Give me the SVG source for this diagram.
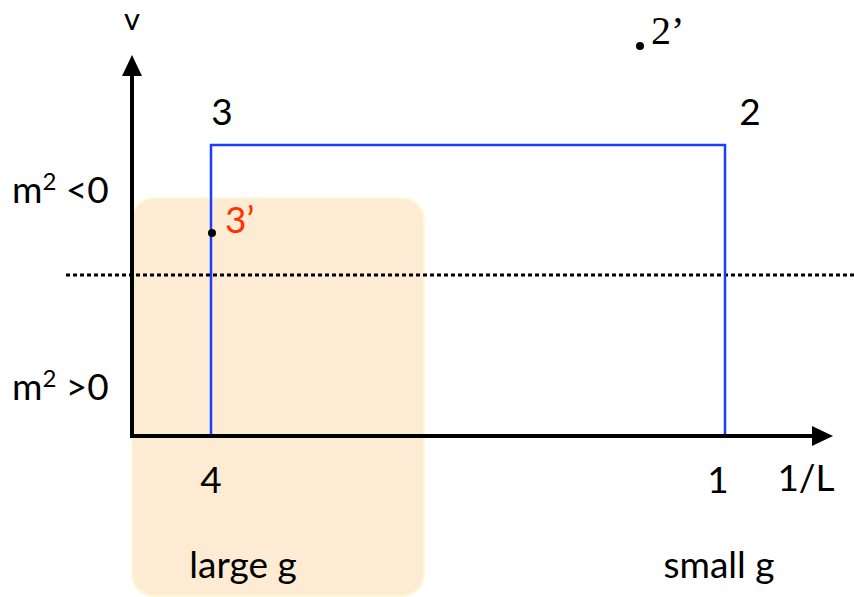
<svg xmlns="http://www.w3.org/2000/svg" width="854" height="597" viewBox="0 0 854 597">
<style>
.t{font-family:Lato,"Open Sans","Liberation Sans",sans-serif;font-size:37px;fill:#000}
.s{font-family:"Liberation Serif",serif;font-size:40px;fill:#000}
.ax{stroke:#000;stroke-width:4;fill:none}
.bl{stroke:#1a3dff;stroke-width:2.5;fill:none}
</style>
<g id="region-large-g">
<rect x="132" y="198" width="292" height="398" rx="22" fill="#fdebd4" stroke="#fdf8d8" stroke-width="2"/>
</g>
<g id="connectors">
<line x1="66" y1="275" x2="854" y2="275" stroke="#000" stroke-width="3" stroke-dasharray="4 3"/>
<polyline class="bl" points="211,436 211,145 725,145 725,436"/>
<line class="ax" x1="132" y1="438" x2="132" y2="74"/>
<line class="ax" x1="130" y1="436" x2="814" y2="436"/>
<path d="M122,76 L132,55 L142,76 Z" fill="#000"/>
<path d="M812,426 L833,436 L812,446 Z" fill="#000"/>
</g>
<g id="axis-v"><text class="t" x="132" y="30" text-anchor="middle" font-size="31" style="font-size:31px">v</text></g>
<g id="axis-L"><text class="t" x="806" y="491" text-anchor="middle">1/L</text></g>
<g id="label-m2neg"><text class="t" x="12" y="203">m<tspan font-size="24" dy="-13">2</tspan><tspan dy="13"> &lt;0</tspan></text></g>
<g id="label-m2pos"><text class="t" x="12" y="400">m<tspan font-size="24" dy="-13">2</tspan><tspan dy="13"> &gt;0</tspan></text></g>
<g id="node-3"><text class="t" x="222" y="125" text-anchor="middle">3</text></g>
<g id="node-2"><text class="t" x="750" y="125" text-anchor="middle">2</text></g>
<g id="node-4"><text class="t" x="211" y="493" text-anchor="middle">4</text></g>
<g id="node-1"><text class="t" x="718" y="493" text-anchor="middle">1</text></g>
<g id="node-3p"><circle cx="212" cy="233" r="4" fill="#000"/><text class="t" x="225" y="233" style="fill:#ff3300">3’</text></g>
<g id="node-2p"><circle cx="640" cy="46" r="4" fill="#000"/><text class="s" x="651" y="44">2’</text></g>
<g id="label-large"><text class="t" x="243" y="578" text-anchor="middle">large g</text></g>
<g id="label-small"><text class="t" x="719" y="578" text-anchor="middle">small g</text></g>
</svg>
